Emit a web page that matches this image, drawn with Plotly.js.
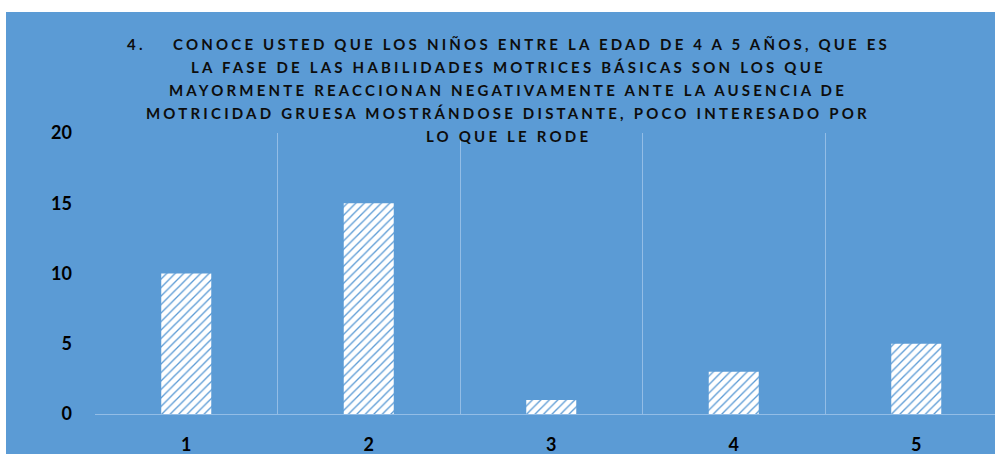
<!DOCTYPE html>
<html>
<head>
<meta charset="utf-8">
<script src="https://cdn.plot.ly/plotly-3.0.1.min.js"></script>
<style>
  html, body { margin: 0; padding: 0; background: #ffffff; }
  #chart { position: absolute; left: 6px; top: 12px; width: 989px; height: 442px; }
  .annotation-text { letter-spacing: 3.2px; }
</style>
</head>
<body>
<div id="chart"></div>
<script>
const categories = [1, 2, 3, 4, 5];
const values = [10, 15, 1, 3, 5];
const yTicks = [0, 5, 10, 15, 20];
const titleLines = [
  "4.&nbsp;&nbsp;&nbsp;&nbsp;CONOCE USTED QUE LOS NIÑOS ENTRE LA EDAD DE 4 A 5 AÑOS, QUE ES",
  "LA FASE DE LAS HABILIDADES MOTRICES BÁSICAS SON LOS QUE",
  "MAYORMENTE REACCIONAN NEGATIVAMENTE ANTE LA AUSENCIA DE",
  "MOTRICIDAD GRUESA MOSTRÁNDOSE DISTANTE, POCO INTERESADO POR",
  "LO QUE LE RODE"
];

const blue = "#5B9BD5";
const grid = "#93BDE6";
const boundaries = categories.map(c => c - 0.5);

const trace = {
  type: "bar",
  x: categories,
  y: values,
  width: 0.274,
  marker: {
    color: "#ffffff",
    line: { width: 0 },
    pattern: { shape: "/", fgcolor: blue, bgcolor: "#ffffff", size: 6, solidity: 0.22 }
  },
  hoverinfo: "none"
};

const annotations = titleLines.map((t, i) => ({
  text: "<b>" + t + "</b>",
  xref: "paper", yref: "paper",
  x: 0.459, y: 1 + (89 - i * 23) / 281,
  xanchor: "center", yanchor: "middle",
  showarrow: false,
  font: { family: "Lato, 'Open Sans', sans-serif", size: 15, color: "#0d0d0d" }
}));

const layout = {
  width: 989, height: 442,
  margin: { l: 89, r: 0, t: 121, b: 40 },
  paper_bgcolor: blue,
  plot_bgcolor: blue,
  showlegend: false,
  xaxis: {
    type: "linear",
    range: [0.5, 0.5 + 900 / 182.5],
    tickmode: "array",
    tickvals: categories,
    ticktext: categories.map(String),
    showgrid: false,
    zeroline: false,
    showline: true, linecolor: grid, linewidth: 1,
    ticks: "",
    ticklabelstandoff: 14,
    tickfont: { family: "Lato, 'Open Sans', sans-serif", size: 18, color: "#000000", weight: "bold" },
    minor: { tickmode: "array", tickvals: boundaries, showgrid: true, gridcolor: grid, gridwidth: 1, ticks: "" },
    fixedrange: true
  },
  yaxis: {
    range: [0, 20],
    tickmode: "array",
    tickvals: yTicks,
    showgrid: false,
    zeroline: false,
    showline: false,
    ticks: "",
    ticklabelstandoff: 22,
    tickfont: { family: "Lato, 'Open Sans', sans-serif", size: 18, color: "#000000", weight: "bold" },
    fixedrange: true
  },
  annotations: annotations
};

Plotly.newPlot("chart", [trace], layout, { displayModeBar: false, staticPlot: true });
</script>
</body>
</html>
